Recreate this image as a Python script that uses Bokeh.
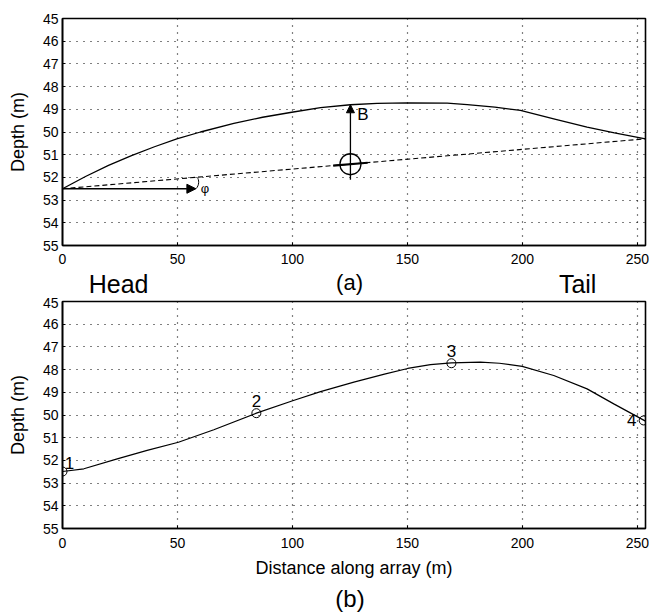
from bokeh.plotting import figure
from bokeh.layouts import column
from bokeh.models import Range1d, FixedTicker, Arrow, NormalHead, ColumnDataSource
from bokeh.embed import file_html
from bokeh.resources import INLINE
from bokeh.core.properties import value

FONT = "Liberation Sans"

# ---- data: panel (a) ----
a_x = [0, 10, 20, 30, 40, 49.7, 60, 74.5, 87, 99.7, 112.2, 125.2, 136.8, 149.9, 167.3, 176, 188, 199.1, 213.6, 228.1, 240, 253.5]
a_depth = [52.5, 51.96, 51.47, 51.04, 50.65, 50.3, 50.0, 49.62, 49.35, 49.13, 48.93, 48.8, 48.74, 48.72, 48.73, 48.79, 48.9, 49.05, 49.42, 49.79, 50.04, 50.3]
chord_x = [0, 253.5]
chord_depth = [52.5, 50.3]
mid_x = 125.2          # array midpoint (circle)
mid_depth = 51.42
bow_depth = 48.8       # curve depth above midpoint (B)
phi_end_x = 58

# ---- data: panel (b) ----
b_x = [0, 9.3, 23.8, 36.8, 50.4, 65.8, 84.3, 100.4, 112.2, 126.7, 140, 150.1, 160, 169.1, 181.7, 190, 199.9, 213.6, 228.1, 239.7, 253.5]
b_depth = [52.49, 52.37, 51.93, 51.56, 51.2, 50.65, 49.92, 49.36, 48.97, 48.55, 48.2, 47.95, 47.78, 47.7, 47.67, 47.72, 47.86, 48.26, 48.85, 49.51, 50.27]
sensor_x = [0, 84.3, 169.1, 252.7]
sensor_depth = [52.49, 49.92, 47.72, 50.24]
sensor_names = ["1", "2", "3", "4"]

x_ticks = [0, 50, 100, 150, 200, 250]
y_ticks = list(range(45, 56))
X_MAX = 253.5


def make_panel(height, top, bottom, xlabel="", x_standoff=9):
    p = figure(width=649, height=height, x_range=Range1d(0, X_MAX), y_range=Range1d(55, 45),
               output_backend="svg", toolbar_location=None,
               min_border_left=62, min_border_right=4, min_border_top=top, min_border_bottom=bottom)
    p.outline_line_color = "black"
    p.outline_line_width = 1.6
    p.outline_line_alpha = 1
    p.xaxis.ticker = FixedTicker(ticks=x_ticks)
    p.yaxis.ticker = FixedTicker(ticks=y_ticks)
    for ax in p.axis:
        ax.axis_line_color = "black"
        ax.axis_line_width = 1.6
        ax.major_tick_in = 3
        ax.major_tick_out = 0
        ax.minor_tick_line_color = None
        ax.major_label_text_font = FONT
        ax.major_label_text_font_size = "14px"
        ax.major_label_text_color = "black"
        ax.axis_label_text_font = FONT
        ax.axis_label_text_font_style = "normal"
        ax.axis_label_text_font_size = "18px"
        ax.axis_label_text_color = "black"
    p.yaxis.axis_label = "Depth (m)"
    p.yaxis.major_label_standoff = 4
    p.yaxis.axis_label_standoff = 12
    p.xaxis.major_label_standoff = x_standoff
    if xlabel:
        p.xaxis.axis_label = xlabel
        p.xaxis.axis_label_standoff = 7
    for g in (p.xgrid, p.ygrid):
        g.grid_line_color = "black"
        g.grid_line_dash = "1 6"
        g.grid_line_width = 1.2
        g.grid_line_alpha = 1
    p.background_fill_color = "white"
    p.border_fill_color = "white"
    return p


def make_strip(height):
    s = figure(width=649, height=height, x_range=Range1d(0, X_MAX), y_range=Range1d(0, height),
               output_backend="svg", toolbar_location=None,
               x_axis_location=None, y_axis_location=None,
               min_border_left=62, min_border_right=4, min_border_top=0, min_border_bottom=0)
    s.outline_line_color = None
    s.xgrid.visible = False
    s.ygrid.visible = False
    s.background_fill_color = "white"
    s.border_fill_color = "white"
    return s


# ---- panel (a) ----
p1 = make_panel(269, 18, 24, x_standoff=8)
p1.line(a_x, a_depth, line_color="black", line_width=1.3)
p1.line(chord_x, chord_depth, line_color="black", line_width=1.1, line_dash="5 3")
p1.add_layout(Arrow(end=NormalHead(size=9, fill_color="black", line_color="black"),
                    x_start=0, y_start=chord_depth[0], x_end=phi_end_x, y_end=chord_depth[0],
                    line_color="black", line_width=1.3))
p1.bezier(x0=[phi_end_x], y0=[52.5], x1=[phi_end_x + 0.6], y1=[52.0],
          cx0=[phi_end_x + 1.6], cy0=[52.35], cx1=[phi_end_x + 1.4], cy1=[52.1],
          line_color="black", line_width=1)
p1.text(x=[phi_end_x + 4], y=[52.47], text=["φ"], text_font=value(FONT),
        text_font_size="13px", text_baseline="middle", text_align="center", text_color="black")
# midpoint marker
p1.scatter([mid_x], [mid_depth], marker="circle", size=21, fill_color=None,
           line_color="black", line_width=1.3)
p1.line([mid_x - 7.5, mid_x + 7.5], [mid_depth + 0.065, mid_depth - 0.065], line_color="black", line_width=2.2)
p1.add_layout(Arrow(end=NormalHead(size=8, fill_color="black", line_color="black"),
                    x_start=mid_x, y_start=52.1, x_end=mid_x, y_end=bow_depth,
                    line_color="black", line_width=1.3))
p1.text(x=[mid_x + 3], y=[49.25], text=["B"], text_font=value(FONT), text_font_size="17px",
        text_baseline="middle", text_align="left", text_color="black")

# ---- strip with Head / (a) / Tail ----
s1 = make_strip(28)
s1.text(x=[24.4, 224], y=[14, 14], text=["Head", "Tail"], text_font=value(FONT), text_font_size="25px",
        text_align="center", text_baseline="middle", text_color="black")
s1.text(x=[124.8], y=[15.5], text=["(a)"], text_font=value(FONT), text_font_size="22px",
        text_align="center", text_baseline="middle", text_color="black")

# ---- panel (b) ----
p2 = make_panel(288, 4, 57, xlabel="Distance along array (m)")
p2.line(b_x, b_depth, line_color="black", line_width=1.2)
p2.scatter(sensor_x, sensor_depth, marker="circle", size=9, fill_color=None,
           line_color="black", line_width=1)
src = ColumnDataSource(dict(x=sensor_x, y=sensor_depth, t=sensor_names,
                            dx=[7, 0, 0, -12], dy=[-9, -12, -12, 0]))
p2.text(x="x", y="y", text="t", x_offset="dx", y_offset="dy", source=src,
        text_font=value(FONT), text_font_size="17px", text_align="center",
        text_baseline="middle", text_color="black")

# ---- strip with (b) ----
s2 = make_strip(30)
s2.text(x=[125], y=[17], text=["(b)"], text_font=value(FONT), text_font_size="24px",
        text_align="center", text_baseline="middle", text_color="black")

layout = column(p1, s1, p2, s2, spacing=0)
open("out.html", "w").write(file_html(layout, INLINE))
